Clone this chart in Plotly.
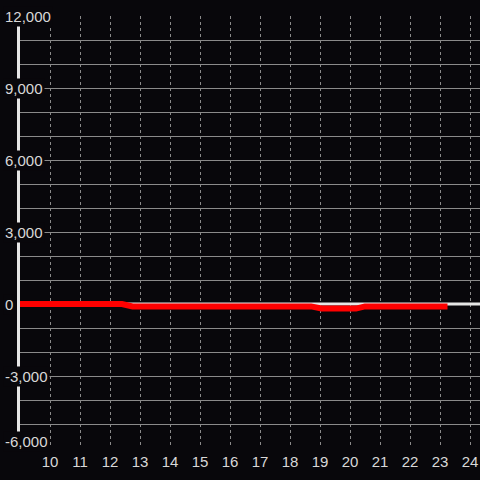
import plotly.graph_objects as go

# ---- data ----
hour_ticks = [10, 11, 12, 13, 14, 15, 16, 17, 18, 19, 20, 21, 22, 23, 24]
hour_labels = [str(h) for h in hour_ticks]

y_grid = list(range(-6000, 12001, 1000))
y_label_vals = [-6000, -3000, 0, 3000, 6000, 9000, 12000]
y_label_text = ["-6,000", "-3,000", "0", "3,000", "6,000", "9,000", "12,000"]

white_hours = [9, 24.5]
white_vals = [0, 0]

red_hours = [9, 12.4, 12.75, 18.7, 19.05, 20.2, 20.5, 23.25]
red_vals = [0, 0, -100, -100, -190, -190, -100, -100]

BG = "#08070b"
GRID = "#8a8a8a"
TXT = "#d8d8d8"
FONT = "Liberation Sans"

fig = go.Figure()
fig.add_trace(go.Scatter(x=white_hours, y=white_vals, mode="lines",
                         line=dict(color="#e6e6e6", width=3), hoverinfo="skip"))
fig.add_trace(go.Scatter(x=red_hours, y=red_vals, mode="lines",
                         line=dict(color="#ff0000", width=6), hoverinfo="skip"))

annotations = []
for v, t in zip(y_label_vals, y_label_text):
    annotations.append(dict(
        x=0, xref="paper", y=v, yref="y", text=t, showarrow=False,
        xanchor="left", yanchor="middle", xshift=-17,
        yshift=7 if v == min(y_label_vals) else 0,
        bgcolor=BG, borderpad=1,
        font=dict(family=FONT, size=15, color=TXT)))

fig.update_layout(
    width=480, height=480,
    margin=dict(l=20, r=0, t=16, b=32),
    paper_bgcolor=BG, plot_bgcolor=BG,
    showlegend=False,
    annotations=annotations,
    xaxis=dict(range=[9, 9 + 460 / 30], tickvals=hour_ticks, ticktext=hour_labels,
               showgrid=True, gridcolor=GRID, griddash="dot", gridwidth=1,
               zeroline=False, showline=False, ticks="", ticklabelstandoff=3,
               tickfont=dict(family=FONT, size=15, color=TXT)),
    yaxis=dict(range=[-6000, 12000], tickvals=y_grid, showticklabels=False,
               showgrid=True, gridcolor=GRID, gridwidth=1, zeroline=False,
               showline=True, linecolor="#e6e6e6", linewidth=3, ticks=""),
)

fig.write_html("out.html", config={"displayModeBar": False},
               post_script="document.body.style.margin='0';"
                           "document.body.style.background='" + BG + "';")
